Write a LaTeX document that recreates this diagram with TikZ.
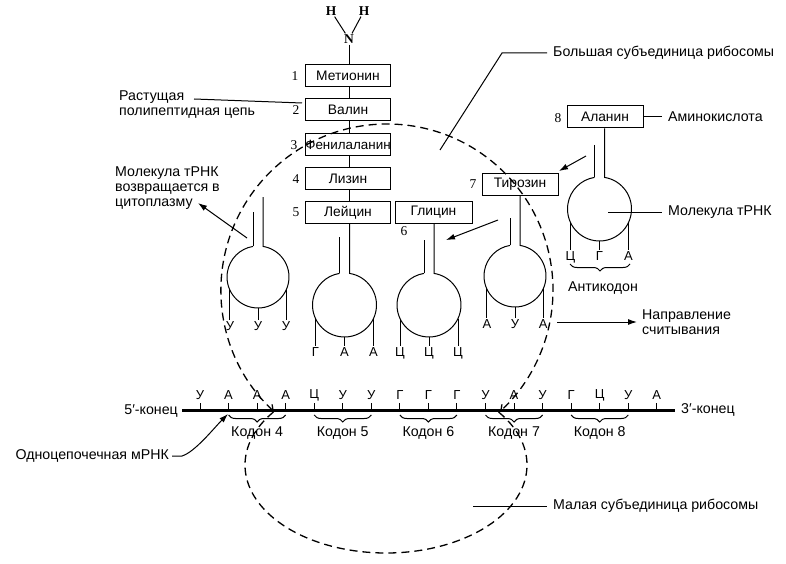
\documentclass[tikz,border=0pt]{standalone}
\usepackage{fontspec}
\setmainfont{Liberation Sans}
\newfontfamily\numfont{Liberation Serif}
\usetikzlibrary{arrows.meta,decorations.pathreplacing,calc}

\tikzset{
  lbl/.style={font=\fontsize{14.2}{15}\selectfont, inner sep=0pt},
  aabox/.style={draw, line width=1pt, minimum height=22pt, inner sep=0pt, font=\fontsize{13.8}{15}\selectfont},
  num/.style={font=\numfont\fontsize{13.5}{15}\selectfont, inner sep=0pt},
  atom/.style={font=\numfont\bfseries\fontsize{13.5}{15}\selectfont, inner sep=1pt},
  nt/.style={font=\fontsize{13}{14}\selectfont, inner sep=1.5pt},
  ln/.style={line width=1pt},
  dsh/.style={line width=1.3pt, dash pattern=on 8pt off 5pt},
  arr/.style={ln, -{Latex[length=9pt,width=6pt]}},
  codonbrace/.style={ln, decorate, decoration={brace, mirror, amplitude=7pt}},
  barb/.style={{Straight Barb[length=5pt,width=8pt]}-{Straight Barb[length=5pt,width=8pt]}}
}

% #1 name prefix, #2 cx, #3 cy, #4 r, #5 left stem top y, #6 right stem top coordinate, #7 leg bottom y, #8 letters
\newcommand{\trnaDraw}[8]{%
  \pgfmathsetmacro{\tA}{acos(5/#4)}%
  \pgfmathsetmacro{\tY}{#3-#4*sin(\tA)}%
  \draw[ln] ({#2-5},#5) -- ({#2-5},\tY);
  \draw[ln] #6 |- ({#2+5},\tY) arc[start angle=-\tA, end angle={180+\tA}, radius=#4];
  \foreach \L [count=\i] in {#8}{%
    \pgfmathsetmacro{\xx}{#2+(\i-2)*0.906*#4}%
    \pgfmathsetmacro{\yy}{#3+#4*(\i==2 ? 1 : 0.423)}%
    \draw[ln] (\xx,\yy) -- (\xx,#7) node[nt, below] (#1-\i) {\L};
  }%
}

\begin{document}
\begin{tikzpicture}[x=1pt, y=-1pt]
\useasboundingbox (0,0) rectangle (786,564);

% amino group
\node[atom] (H1) at (331,11) {H};
\node[atom] (H2) at (364,11) {H};
\node[atom] (N) at (349,39) {N};
\draw[ln] (H1) -- (N);
\draw[ln] (H2) -- (N);

% amino acid boxes
\coordinate (chx) at (349.5,0);
\node[aabox, minimum width=85pt] (met) at (348,76) {Метионин};
\node[aabox, minimum width=85pt] (val) at (348,110) {Валин};
\node[aabox, minimum width=85pt, font=\fontsize{13.4}{15}\selectfont] (phe) at (348,144.5) {Фенилаланин};
\node[aabox, minimum width=85pt] (lys) at (348,178.5) {Лизин};
\node[aabox, minimum width=85pt] (leu) at (348,212.5) {Лейцин};
\node[aabox, minimum width=77pt] (gly) at (433.5,212.5) {Глицин};
\node[aabox, minimum width=76pt] (tyr) at (520,184.4) {Тирозин};
\node[aabox, minimum width=76pt] (ala) at (605,117) {Аланин};

\draw[ln] (N.south -| chx) -- (met.north -| chx);
\draw[ln] (met.south -| chx) -- (val.north -| chx);
\draw[ln] (val.south -| chx) -- (phe.north -| chx);
\draw[ln] (phe.south -| chx) -- (lys.north -| chx);
\draw[ln] (lys.south -| chx) -- (leu.north -| chx);

% numbers
\node[num] (n1) at (295,76) {1};
\node[num] (n2) at (296,110) {2};
\node[num] (n3) at (294,145) {3};
\node[num] (n4) at (296,179) {4};
\node[num] (n5) at (296,212) {5};
\node[num] (n6) at (404,231) {6};
\node[num] (n7) at (473,184) {7};
\node[num] (n8) at (558,118) {8};

% tRNAs
\trnaDraw{t1}{258}{277}{31}{212}{(263,197)}{320}{У,У,У}
\trnaDraw{t2}{344.5}{305}{32}{237}{(leu.south -| chx)}{346}{Г,А,А}
\trnaDraw{t3}{429}{305}{32}{240}{(gly.south -| 434,0)}{346}{Ц,Ц,Ц}
\trnaDraw{t4}{515}{276}{31}{218}{(tyr.south -| 520,0)}{318}{А,У,А}
\trnaDraw{t5}{599.5}{209}{32}{145}{(ala.south -| 604.5,0)}{250}{Ц,Г,А}

% anticodon brace
\draw[codonbrace] (570,264) -- (630,264);
\node[lbl] (anticod) at (603,288) {Антикодон};

% ribosome subunits
\draw[dsh, barb] (387,290) ++(133:166) arc[start angle=133, end angle=407, radius=166];
\draw[dsh] (386,465) ++(-37:141 and 88) arc[start angle=-37, end angle=217, x radius=141, y radius=88];

% mRNA
\coordinate (m5) at (182,410.5);
\coordinate (m3) at (675,410.5);
\draw[line width=2.4pt] (m5) -- (m3);
\foreach \L [count=\i from 0] in {У,А,А,А,Ц,У,У,Г,Г,Г,У,А,У,Г,Ц,У,А}{
  \pgfmathsetmacro{\xx}{200+28.55*\i}
  \draw[ln] (\xx,403) -- (\xx,410.5);
  \node[nt] (m-\i) at (\xx,395) {\L};
}
\foreach \k/\a in {4/1,5/4,6/7,7/10,8/13}{
  \pgfmathsetmacro{\xa}{200+28.55*\a}
  \pgfmathsetmacro{\xb}{\xa+57.1}
  \draw[codonbrace] (\xa,415) -- (\xb,415);
  \node[lbl] (cod\k) at ({(\xa+\xb)/2},433) {Кодон \k};
}
\node[lbl, anchor=east] (end5) at (178,411) {5′-конец};
\node[lbl, anchor=west] (end3) at (681,410) {3′-конец};

% labels
\node[lbl, anchor=west, align=left] (grow) at (119,104.5) {Растущая\\полипептидная цепь};
\coordinate (growA) at (194,99);
\coordinate (growB) at (302,103);
\draw[ln] (growA) -- (growB);

\node[lbl, anchor=west, align=left] (cyto) at (115,188) {Молекула тРНК\\возвращается в\\цитоплазму};
\coordinate (cytoA) at (247,238);
\coordinate (cytoB) at (198,203);
\draw[arr] (cytoA) -- (cytoB);

\node[lbl, anchor=west] (big) at (553,53) {Большая субъединица рибосомы};
\coordinate (bigA) at (440,150);
\draw[ln] (bigA) -- (502,53) -- ([xshift=-6pt]big.west);

\node[lbl, anchor=west] (aminolbl) at (668,117) {Аминокислота};
\draw[ln] (ala.east) -- ([xshift=-6pt]aminolbl.west);

\node[lbl, anchor=west] (trnalbl) at (668,212) {Молекула тРНК};
\coordinate (trnaA) at (608,212);
\draw[ln] (trnaA) -- ([xshift=-6pt]trnalbl.west);

\coordinate (alaArrA) at (586,156);
\coordinate (alaArrB) at (559,171);
\draw[arr] (alaArrA) -- (alaArrB);
\coordinate (glyArrA) at (498,220);
\coordinate (glyArrB) at (446,240);
\draw[arr] (glyArrA) -- (glyArrB);

\node[lbl, anchor=west, align=left] (dir) at (642,322.5) {Направление\\считывания};
\coordinate (dirA) at (557,322);
\draw[arr] (dirA) -- ([xshift=-5pt]dir.west |- dirA);

\node[lbl, anchor=east] (mrnalbl) at (169,456) {Одноцепочечная мРНК};
\coordinate (mrnaTip) at (228,414);
\draw[arr] ([xshift=3pt]mrnalbl.east) -- ++(10,0) .. controls (195,452) and (214,428) .. (mrnaTip);

\node[lbl, anchor=west] (small) at (553,506) {Малая субъединица рибосомы};
\coordinate (smallA) at (473,506);
\draw[ln] (smallA) -- ([xshift=-6pt]small.west);

\end{tikzpicture}
\end{document}
